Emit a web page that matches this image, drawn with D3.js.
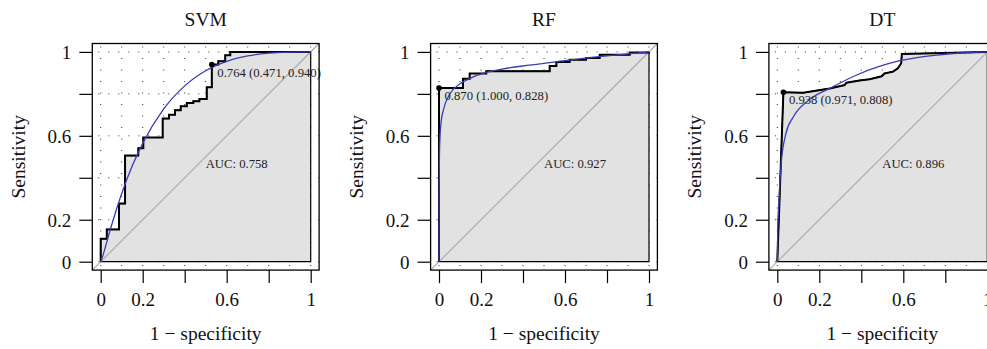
<!DOCTYPE html>
<html>
<head>
<meta charset="utf-8">
<script src="https://cdn.jsdelivr.net/npm/d3@7"></script>
<style>
  html, body { margin: 0; padding: 0; background: #fff; }
  svg { display: block; }
  text { font-family: "Liberation Serif", "Times New Roman", serif; fill: #111; }
</style>
</head>
<body>
<svg id="chart" width="987" height="349"></svg>
<script>
// ---------------- data ----------------
const panelTitles = ["SVM", "RF", "DT"];
const aucLabels = ["AUC: 0.758", "AUC: 0.927", "AUC: 0.896"];
const thresholdLabels = ["0.764 (0.471, 0.940)", "0.870 (1.000, 0.828)", "0.938 (0.971, 0.808)"];
// best threshold point: [1 - specificity, sensitivity]
const thresholdPoints = [[0.529, 0.940], [0.0, 0.828], [0.029, 0.808]];

// empirical ROC curves [1 - specificity, sensitivity]
const svmRoc = [[0,0],[0,0.109],[0.029,0.154],[0.087,0.277],[0.116,0.506],[0.179,0.541],[0.203,0.592],
  [0.295,0.682],[0.325,0.701],[0.354,0.722],[0.381,0.741],[0.41,0.757],[0.441,0.765],[0.47,0.776],
  [0.505,0.831],[0.529,0.940],[0.56,0.956],[0.593,0.984],[0.617,1],[1,1]];
const rfRoc = [[0,0],[0,0.828],[0.114,0.872],[0.146,0.897],[0.225,0.908],[0.527,0.933],[0.559,0.952],
  [0.622,0.963],[0.70,0.971],[0.765,0.987],[0.908,0.997],[1,1]];
const dtRoc = [[0,0],[0.029,0.808],[0.123,0.805],[0.25,0.826],[0.321,0.842],[0.329,0.853],[0.392,0.864],
  [0.44,0.870],[0.497,0.884],[0.51,0.897],[0.551,0.906],[0.574,0.922],[0.59,0.946],[0.593,0.99],[1,1]];

// smoothed ROC curves (blue)
const svmSmooth = [[0,0],[0.01,0.028],[0.02,0.062],[0.05,0.168],[0.1,0.325],[0.15,0.456],[0.2,0.564],
  [0.3,0.728],[0.4,0.838],[0.5,0.91],[0.6,0.955],[0.7,0.981],[0.8,0.994],[0.9,0.999],[1,1]];
const rfSmooth = [[0,0],[0.0005,0.32],[0.002,0.5],[0.005,0.6],[0.01,0.665],[0.02,0.72],[0.05,0.797],
  [0.1,0.848],[0.15,0.875],[0.225,0.902],[0.3,0.918],[0.43,0.937],[0.59,0.957],[0.75,0.976],[0.9,0.991],[1,1]];
const dtSmooth = [[0,0],[0.002,0.15],[0.008,0.294],[0.017,0.452],[0.041,0.611],[0.076,0.69],[0.15,0.77],
  [0.25,0.826],[0.378,0.89],[0.584,0.958],[0.759,0.985],[0.9,0.996],[1,1]];

const rocCurves = [svmRoc, rfRoc, dtRoc];
const rocStepped = [true, true, false];
const smoothCurves = [svmSmooth, rfSmooth, dtSmooth];

const tickValues = [0, 0.2, 0.4, 0.6, 0.8, 1];
const tickLabels = ["0", "0.2", "", "0.6", "", "1"];
const xLabel = "1 \u2212 specificity";
const yLabel = "Sensitivity";

// ---------------- layout ----------------
const svg = d3.select("#chart");
const panelX0 = [100.7, 439.0, 777.3];
const plotW = 210, plotH = 209.8;
const yTop = 51.9;
const pad = 0.04;

panelTitles.forEach((title, i) => {
  const x = d3.scaleLinear().domain([0, 1]).range([panelX0[i], panelX0[i] + plotW]);
  const y = d3.scaleLinear().domain([0, 1]).range([yTop + plotH, yTop]);
  const bx0 = x(-pad), bx1 = x(1 + pad), by0 = y(1 + pad), by1 = y(-pad);
  const g = svg.append("g");

  const clipId = "clip" + i;
  g.append("clipPath").attr("id", clipId).append("rect")
    .attr("x", bx0).attr("y", by0).attr("width", bx1 - bx0).attr("height", by1 - by0);
  const inner = g.append("g").attr("clip-path", `url(#${clipId})`);

  // dotted grid
  d3.range(0, 11).forEach(k => {
    inner.append("line").attr("x1", x(k / 10)).attr("x2", x(k / 10)).attr("y1", by0).attr("y2", by1)
      .attr("stroke", "#333").attr("stroke-width", 1).attr("stroke-dasharray", "1,10.5")
      .attr("stroke-dashoffset", -3);
  });
  tickValues.forEach(v => {
    inner.append("line").attr("x1", bx0).attr("x2", bx1).attr("y1", y(v)).attr("y2", y(v))
      .attr("stroke", "#333").attr("stroke-width", 1).attr("stroke-dasharray", "1,9")
      .attr("stroke-dashoffset", -6);
  });

  // AUC polygon
  const curve = rocCurves[i];
  const lineGen = d3.line().x(d => x(d[0])).y(d => y(d[1]))
    .curve(rocStepped[i] ? d3.curveStepAfter : d3.curveLinear);
  const polyPath = lineGen(curve) + `L${x(1)},${y(0)}L${x(0)},${y(0)}Z`;
  inner.append("path").attr("d", polyPath).attr("fill", "#e2e2e2")
    .attr("stroke", "#000").attr("stroke-width", 1.2);

  // diagonal
  inner.append("line").attr("x1", x(-pad)).attr("y1", y(-pad)).attr("x2", x(1 + pad)).attr("y2", y(1 + pad))
    .attr("stroke", "#a8a8a8").attr("stroke-width", 1.1);

  // ROC curve
  inner.append("path").attr("d", lineGen(curve)).attr("fill", "none")
    .attr("stroke", "#000").attr("stroke-width", 2).attr("stroke-linejoin", "miter");

  // smoothed curve
  inner.append("path").datum(smoothCurves[i])
    .attr("d", d3.line().x(d => x(d[0])).y(d => y(d[1])).curve(d3.curveMonotoneX))
    .attr("fill", "none").attr("stroke", "#3b3db3").attr("stroke-width", 1.3);

  // threshold point + label
  const tp = thresholdPoints[i];
  g.append("circle").attr("cx", x(tp[0])).attr("cy", y(tp[1])).attr("r", 2.8).attr("fill", "#000");
  g.append("text").attr("x", x(tp[0]) + 5.5).attr("y", y(tp[1]) + 12.3)
    .attr("font-size", 12.7).style("fill", "#222").text(thresholdLabels[i]);

  // AUC label
  g.append("text").attr("x", x(0.5)).attr("y", y(0.5) + 10.8)
    .attr("font-size", 12.7).style("fill", "#222").text(aucLabels[i]);

  // box
  g.append("rect").attr("x", bx0).attr("y", by0).attr("width", bx1 - bx0).attr("height", by1 - by0)
    .attr("fill", "none").attr("stroke", "#000").attr("stroke-width", 1.3);

  // axes
  const yAxis = d3.axisLeft(y).tickValues(tickValues).tickSize(13).tickPadding(8)
    .tickFormat((d, j) => tickLabels[j]);
  const ya = g.append("g").attr("transform", `translate(${bx0},0)`).call(yAxis);
  ya.select(".domain").remove();
  ya.selectAll("line").attr("stroke", "#000").attr("stroke-width", 1.2);
  ya.selectAll("text").attr("font-size", 19).attr("font-family", "Liberation Serif").style("fill", "#111")
    .attr("dy", "0.34em");

  const xAxis = d3.axisBottom(x).tickValues(tickValues).tickSize(13).tickPadding(9)
    .tickFormat((d, j) => tickLabels[j]);
  const xa = g.append("g").attr("transform", `translate(0,${by1})`).call(xAxis);
  xa.select(".domain").remove();
  xa.selectAll("line").attr("stroke", "#000").attr("stroke-width", 1.2);
  xa.selectAll("text").attr("font-size", 19).attr("font-family", "Liberation Serif").style("fill", "#111")
    .attr("dy", "0.71em");

  // titles
  g.append("text").attr("x", x(0.5)).attr("y", 26).attr("text-anchor", "middle")
    .attr("font-size", 19.5).text(title);
  g.append("text").attr("x", x(0.5)).attr("y", 339.5).attr("text-anchor", "middle")
    .attr("font-size", 19.5).text(xLabel);
  g.append("text").attr("transform", `translate(${panelX0[i] - 76},${y(0.5)}) rotate(-90)`)
    .attr("text-anchor", "middle").attr("font-size", 19.5).text(yLabel);
});
</script>
</body>
</html>
